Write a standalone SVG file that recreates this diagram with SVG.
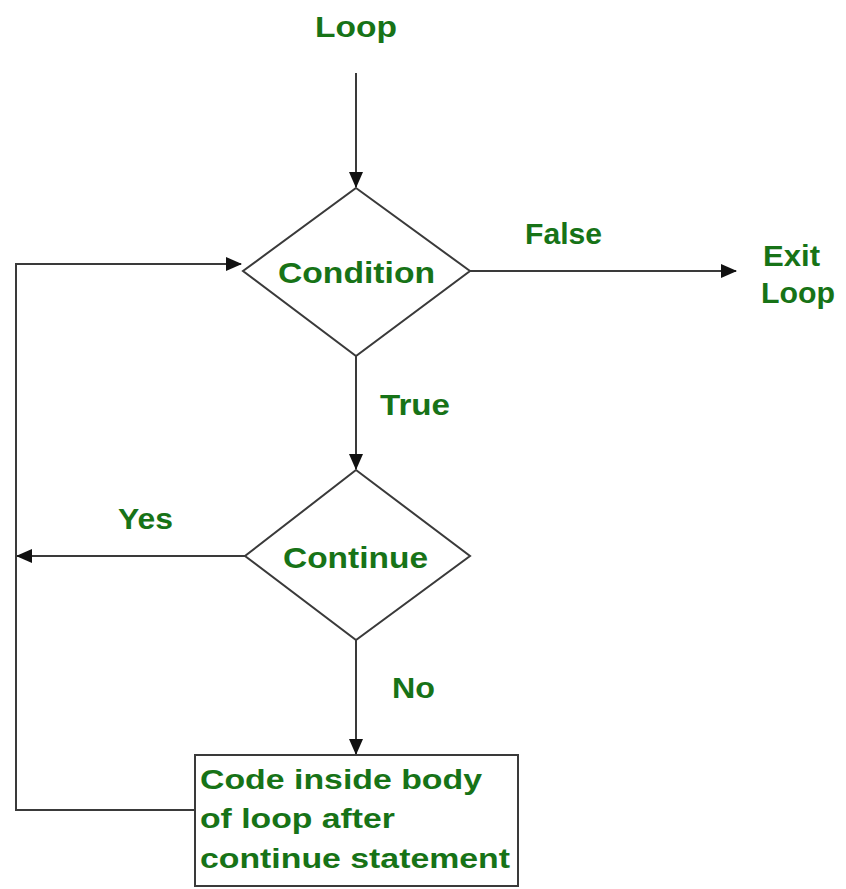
<svg xmlns="http://www.w3.org/2000/svg" width="846" height="889" viewBox="0 0 846 889">
<style>
.shape{fill:#fff;stroke:#3a3a3a;stroke-width:2}
.line{fill:none;stroke:#3a3a3a;stroke-width:2}
.t{font-family:"Liberation Sans",Arial,sans-serif;font-weight:bold;fill:#177317;font-size:30px}
.box{font-size:28px}
</style>
<defs>
<marker id="ah" markerUnits="userSpaceOnUse" markerWidth="16" markerHeight="14" refX="15" refY="7" orient="auto">
<path d="M0,0 L16,7 L0,14 Z" fill="#111"/>
</marker>
</defs>
<rect width="846" height="889" fill="#fff"/>
<g id="connectors">
<line class="line" x1="356" y1="73" x2="356" y2="187" marker-end="url(#ah)"/>
<line class="line" x1="470" y1="271" x2="736" y2="271" marker-end="url(#ah)"/>
<line class="line" x1="356" y1="356" x2="356" y2="469" marker-end="url(#ah)"/>
<line class="line" x1="356" y1="640" x2="356" y2="754" marker-end="url(#ah)"/>
<line class="line" x1="245" y1="556" x2="17" y2="556" marker-end="url(#ah)"/>
<polyline class="line" points="195,810 16,810 16,264 241,264" marker-end="url(#ah)"/>
<text class="t" x="525" y="244" textLength="77" lengthAdjust="spacingAndGlyphs">False</text>
<text class="t" x="380" y="415" textLength="70" lengthAdjust="spacingAndGlyphs">True</text>
<text class="t" x="118" y="529" textLength="55" lengthAdjust="spacingAndGlyphs">Yes</text>
<text class="t" x="392" y="698" textLength="43" lengthAdjust="spacingAndGlyphs">No</text>
</g>
<g id="start">
<text class="t" x="315" y="37" textLength="82" lengthAdjust="spacingAndGlyphs">Loop</text>
</g>
<g id="condition">
<polygon class="shape" points="356,188 470,271 356,356 243,271"/>
<text class="t" x="278" y="283" textLength="157" lengthAdjust="spacingAndGlyphs">Condition</text>
</g>
<g id="exit">
<text class="t" x="763" y="266" textLength="57" lengthAdjust="spacingAndGlyphs">Exit</text>
<text class="t" x="761" y="303" textLength="74" lengthAdjust="spacingAndGlyphs">Loop</text>
</g>
<g id="continue">
<polygon class="shape" points="356,470 470,556 356,640 245,556"/>
<text class="t" x="283" y="568" textLength="145" lengthAdjust="spacingAndGlyphs">Continue</text>
</g>
<g id="body">
<rect class="shape" x="195" y="755" width="323" height="131"/>
<text class="t box" x="200" y="789" textLength="282" lengthAdjust="spacingAndGlyphs">Code inside body</text>
<text class="t box" x="200" y="828" textLength="195" lengthAdjust="spacingAndGlyphs">of loop after</text>
<text class="t box" x="200" y="868" textLength="310" lengthAdjust="spacingAndGlyphs">continue statement</text>
</g>
</svg>
